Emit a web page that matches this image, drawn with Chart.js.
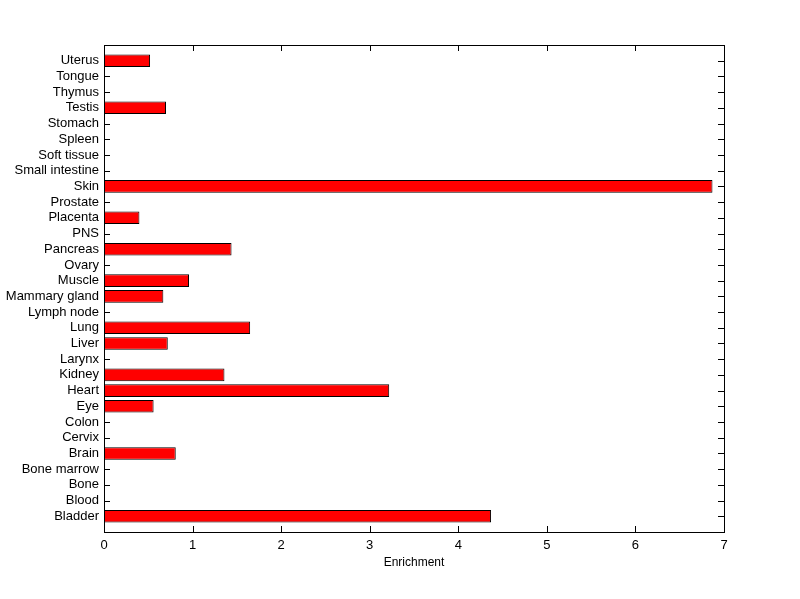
<!DOCTYPE html>
<html>
<head>
<meta charset="utf-8">
<script src="https://cdn.jsdelivr.net/npm/chart.js@4"></script>
<style>
  html, body { margin: 0; padding: 0; background: #fff; }
  #wrap { width: 800px; height: 599px; }
</style>
</head>
<body>
<div id="wrap"><canvas id="enrichChart" width="800" height="599"></canvas></div>
<script>
// tissues, top to bottom as in the picture
var tissues = ['Uterus', 'Tongue', 'Thymus', 'Testis', 'Stomach', 'Spleen', 'Soft tissue',
  'Small intestine', 'Skin', 'Prostate', 'Placenta', 'PNS', 'Pancreas', 'Ovary', 'Muscle',
  'Mammary gland', 'Lymph node', 'Lung', 'Liver', 'Larynx', 'Kidney', 'Heart', 'Eye',
  'Colon', 'Cervix', 'Brain', 'Bone marrow', 'Bone', 'Blood', 'Bladder'];
var enrichment = [0.52, 0, 0, 0.70, 0, 0, 0,
  0, 6.87, 0, 0.40, 0, 1.44, 0, 0.96,
  0.67, 0, 1.65, 0.72, 0, 1.36, 3.22, 0.56,
  0, 0, 0.81, 0, 0, 0, 4.37];
var xTicks = [0, 1, 2, 3, 4, 5, 6, 7];
var xTitle = 'Enrichment';

// blank slot above and below so the bars sit one step in from the frame
var labels = [''].concat(tissues).concat(['']);
var values = [null].concat(enrichment.map(function (v) { return v === 0 ? null : v; })).concat([null]);

var fontSpec = { family: 'Arial, "Liberation Sans", Helvetica, sans-serif', size: 13 };

// small ticks pointing inwards, drawn under the bars like the original
var frameTicks = {
  id: 'frameTicks',
  beforeDatasetsDraw: function (chart) {
    var ctx = chart.ctx;
    var a = chart.chartArea;
    var xs = chart.scales.x;
    var ys = chart.scales.y;
    var len = 6;
    ctx.save();
    ctx.strokeStyle = '#000';
    ctx.lineWidth = 1;
    ctx.beginPath();
    xTicks.forEach(function (t) {
      var px = Math.round(xs.getPixelForValue(t)) + 0.5;
      ctx.moveTo(px, a.bottom);
      ctx.lineTo(px, a.bottom - len);
      ctx.moveTo(px, a.top);
      ctx.lineTo(px, a.top + len);
    });
    for (var i = 1; i < labels.length - 1; i++) {
      var py = Math.round(ys.getPixelForValue(i)) + 0.5;
      ctx.moveTo(a.left, py);
      ctx.lineTo(a.left + len, py);
      ctx.moveTo(a.right, py);
      ctx.lineTo(a.right - len, py);
    }
    ctx.stroke();
    ctx.restore();
  },
  afterDraw: function (chart) {
    var ctx = chart.ctx;
    var a = chart.chartArea;
    ctx.save();
    ctx.strokeStyle = '#000';
    ctx.lineWidth = 1;
    ctx.strokeRect(Math.round(a.left) + 0.5, Math.round(a.top) + 0.5,
      Math.round(a.right - a.left), Math.round(a.bottom - a.top));
    ctx.restore();
  }
};

var ctx = document.getElementById('enrichChart').getContext('2d');
var chart = new Chart(ctx, {
  type: 'bar',
  data: {
    labels: labels,
    datasets: [{
      label: xTitle,
      data: values,
      backgroundColor: '#ff0000',
      borderColor: '#000000',
      borderWidth: 1,
      borderSkipped: false,
      inflateAmount: 0,
      barPercentage: 0.8,
      categoryPercentage: 1
    }]
  },
  options: {
    indexAxis: 'y',
    responsive: false,
    animation: false,
    layout: { padding: { left: 0, top: 45, right: 76, bottom: 29 } },
    plugins: {
      legend: { display: false },
      tooltip: { enabled: false }
    },
    scales: {
      x: {
        type: 'linear',
        min: 0,
        max: 7,
        afterBuildTicks: function (scale) {
          scale.ticks = xTicks.map(function (v) { return { value: v }; });
        },
        afterFit: function (scale) { scale.height = 38; },
        grid: { display: false, drawTicks: false },
        border: { display: false },
        ticks: { color: '#000', font: fontSpec, padding: 6, maxRotation: 0 },
        title: { display: true, text: xTitle, color: '#000', font: { family: fontSpec.family, size: 12 }, padding: 0 }
      },
      y: {
        offset: false,
        afterFit: function (scale) { scale.width = 104; },
        grid: { display: false, drawTicks: false },
        border: { display: false },
        ticks: { color: '#000', font: fontSpec, padding: 5, autoSkip: false }
      }
    }
  },
  plugins: [frameTicks]
});
</script>
</body>
</html>
